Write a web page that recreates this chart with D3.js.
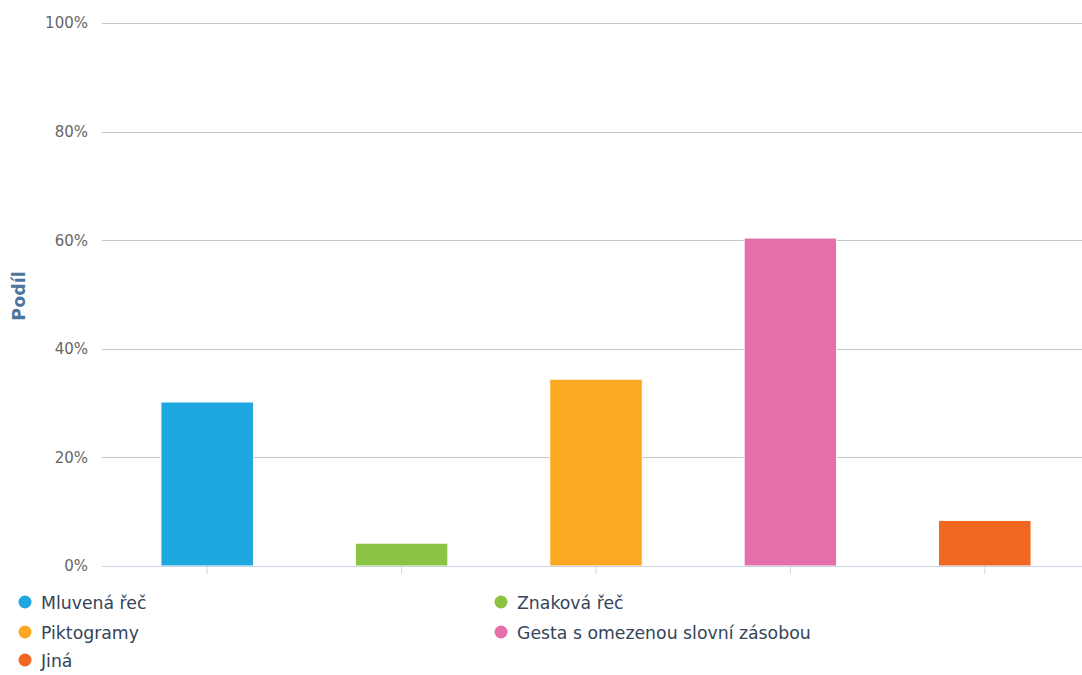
<!DOCTYPE html>
<html>
<head>
<meta charset="utf-8">
<script src="https://cdn.jsdelivr.net/npm/d3@7"></script>
<style>
  html, body { margin: 0; padding: 0; background: #ffffff; }
  svg { display: block; font-family: "DejaVu Sans", sans-serif; }
</style>
</head>
<body>
<svg id="chart" width="1082" height="675"></svg>
<script>
// Categories, shares (%) and colours of the bar chart
const categories = ["Mluvená řeč", "Znaková řeč", "Piktogramy", "Gesta s omezenou slovní zásobou", "Jiná"];
const shares = [30.2, 4.2, 34.4, 60.4, 8.4];
const colors = ["#1fa8df", "#8bc443", "#fba922", "#e56faa", "#f06722"];
const yTicks = [0, 20, 40, 60, 80, 100];
const yTickLabels = ["0%", "20%", "40%", "60%", "80%", "100%"];
const axisTitle = "Podíl";

const svg = d3.select("#chart");
const plot = { left: 110, right: 1082, top: 23, bottom: 566, gridLeft: 102 };

const x = d3.scaleBand()
  .domain(categories)
  .range([plot.left, plot.right])
  .paddingInner(0.524)
  .paddingOuter(0.262);

const y = d3.scaleLinear().domain([0, 100]).range([plot.bottom, plot.top]);

// Horizontal grid lines with percentage labels
const yAxis = d3.axisLeft(y)
  .tickValues(yTicks)
  .tickSize(-(plot.right - plot.gridLeft))
  .tickPadding(14)
  .tickFormat((d, i) => yTickLabels[i]);

const gy = svg.append("g")
  .attr("transform", `translate(${plot.gridLeft},0)`)
  .call(yAxis);
gy.select(".domain").remove();
gy.selectAll(".tick line")
  .attr("stroke", "#c6c6c6")
  .attr("stroke-width", 1)
  .attr("shape-rendering", "crispEdges");
gy.selectAll(".tick text")
  .attr("fill", "#666666")
  .attr("font-size", 15)
  .attr("font-family", "DejaVu Sans, sans-serif");
gy.selectAll(".tick").filter(d => d === 0).select("line").remove();

// Bars
svg.append("g")
  .selectAll("rect")
  .data(categories)
  .join("rect")
  .attr("x", d => x(d))
  .attr("width", x.bandwidth())
  .attr("y", (d, i) => y(shares[i]))
  .attr("height", (d, i) => y(0) - y(shares[i]))
  .attr("fill", (d, i) => colors[i])
  .attr("stroke", "#ffffff")
  .attr("stroke-width", 1);

// Category axis: baseline and tick marks, no labels
const xAxis = d3.axisBottom(x).tickSize(8).tickFormat("");
const gx = svg.append("g")
  .attr("transform", `translate(0,${plot.bottom})`)
  .call(xAxis);
gx.select(".domain")
  .attr("d", `M${plot.gridLeft},0.5H${plot.right}`)
  .attr("stroke", "#ccd6eb");
gx.selectAll(".tick line").attr("stroke", "#ccd6eb");

// Y axis title
svg.append("text")
  .attr("transform", `translate(25,296) rotate(-90)`)
  .attr("text-anchor", "middle")
  .attr("font-size", 17.5)
  .attr("font-weight", "bold")
  .attr("fill", "#4d759e")
  .text(axisTitle);

// Legend: two columns, filled row by row
const legendCols = [25, 501];
const legendRows = [603, 633, 661];
const legend = svg.append("g")
  .selectAll("g")
  .data(categories)
  .join("g")
  .attr("transform", (d, i) => `translate(${legendCols[i % 2]},${legendRows[Math.floor(i / 2)]})`);
legend.append("circle")
  .attr("r", 6.5)
  .attr("cy", -1)
  .attr("fill", (d, i) => colors[i]);
legend.append("text")
  .attr("x", 16)
  .attr("y", 6)
  .attr("font-size", 17.3)
  .attr("fill", "#34445a")
  .text(d => d);
</script>
</body>
</html>
